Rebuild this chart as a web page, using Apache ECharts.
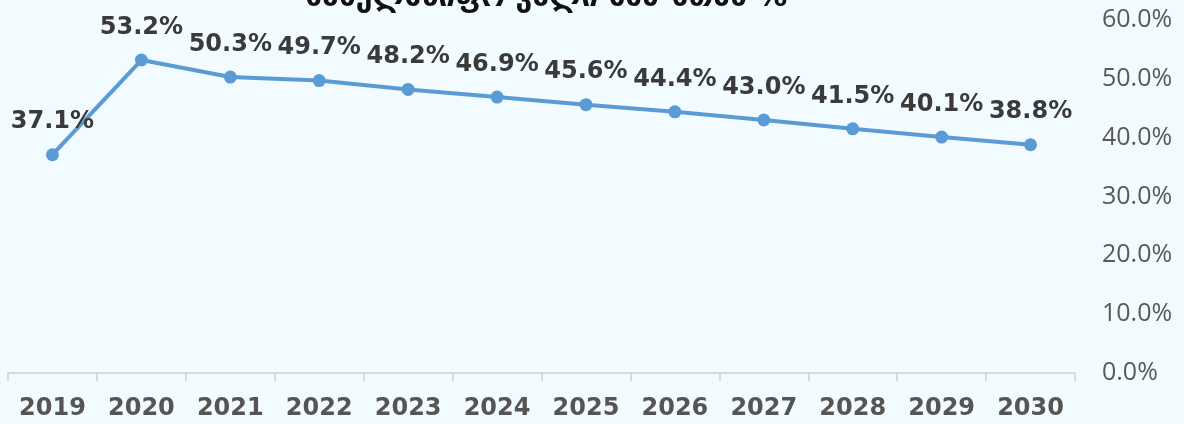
<!DOCTYPE html>
<html>
<head>
<meta charset="utf-8">
<script src="https://cdn.jsdelivr.net/npm/echarts@6/dist/echarts.min.js"></script>
<style>
  html, body { margin: 0; padding: 0; background: #f2fbff; }
  #main { width: 1184px; height: 424px; }
</style>
</head>
<body>
<div id="main"></div>
<script>
const years = ['2019', '2020', '2021', '2022', '2023', '2024', '2025', '2026', '2027', '2028', '2029', '2030'];
const ratio = [37.1, 53.2, 50.3, 49.7, 48.2, 46.9, 45.6, 44.4, 43.0, 41.5, 40.1, 38.8];
const titleText = 'სახელმწიფო ვალი მშპ-სთან %';

const dejavu = '"DejaVu Sans", sans-serif';
const myChart = echarts.init(document.getElementById('main'));

const option = {
    backgroundColor: '#f2fbff',
    title: {
        text: titleText,
        left: 300,
        top: -22,
        textStyle: {
            color: '#111',
            fontFamily: dejavu,
            fontWeight: 'bold',
            fontSize: 30
        }
    },
    grid: { left: 8, right: 109, top: 20, bottom: 51 },
    xAxis: {
        type: 'category',
        data: years,
        boundaryGap: true,
        axisLine: { lineStyle: { color: '#d0d0d0', width: 1.5 } },
        axisTick: { show: true, length: 8, lineStyle: { color: '#d0d0d0', width: 1.5 } },
        axisLabel: {
            color: '#555555',
            fontFamily: dejavu,
            fontWeight: 'bold',
            fontSize: 24,
            margin: 24
        }
    },
    yAxis: {
        type: 'value',
        position: 'right',
        min: 0,
        max: 60,
        interval: 10,
        splitLine: { show: false },
        axisLine: { show: false },
        axisTick: { show: false },
        axisLabel: {
            color: '#595959',
            fontFamily: '"Open Sans", sans-serif',
            fontSize: 25,
            margin: 27,
            formatter: v => v.toFixed(1) + '%'
        }
    },
    series: [{
        type: 'line',
        data: ratio,
        symbol: 'circle',
        symbolSize: 13,
        itemStyle: { color: '#5b9bd5' },
        lineStyle: { color: '#5b9bd5', width: 4 },
        label: {
            show: true,
            position: 'top',
            distance: 14,
            color: '#3a3a3a',
            fontFamily: dejavu,
            fontWeight: 600,
            fontSize: 24,
            formatter: p => p.value.toFixed(1) + '%'
        }
    }]
};

myChart.setOption(option);
</script>
</body>
</html>
